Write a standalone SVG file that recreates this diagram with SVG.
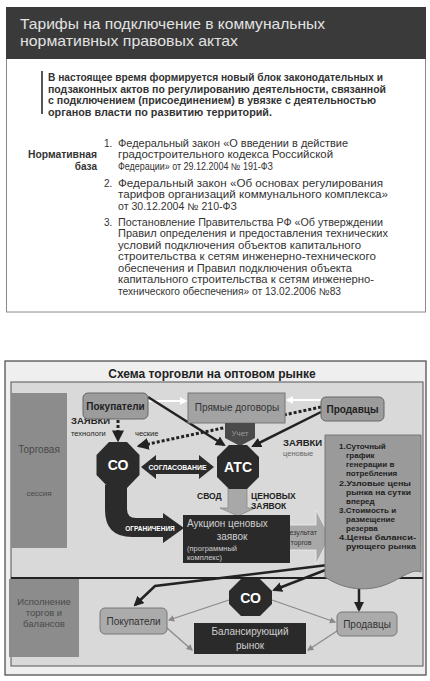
<svg xmlns="http://www.w3.org/2000/svg" width="430" height="681" viewBox="0 0 430 681">
<style>
.hd{font-family:"Liberation Sans","DejaVu Sans",sans-serif;font-size:15px;fill:#e2e2e2}
.pb{font-family:"Liberation Sans","DejaVu Sans",sans-serif;font-size:10px;font-weight:bold;fill:#333}
.li{font-family:"Liberation Sans","DejaVu Sans",sans-serif;font-size:10px;fill:#333}
.a{font-family:"Liberation Sans",Arial,sans-serif}
.b{font-weight:bold}
.wt{fill:#fff}
.lt{fill:#d0d0d0}
.thin{stroke:#8a8a8a;stroke-width:1.3;fill:none}
.thick{stroke:#222;stroke-width:2.5;fill:none}
</style>
<defs>
<marker id="ad" viewBox="0 0 10 10" refX="8" refY="5" markerWidth="4" markerHeight="4" orient="auto"><path d="M0,0L10,5L0,10z" fill="#222"/></marker>
<marker id="aw" viewBox="0 0 10 10" refX="8" refY="5" markerWidth="4" markerHeight="4" orient="auto"><path d="M0,0L10,5L0,10z" fill="#fff"/></marker>
<marker id="ag" viewBox="0 0 10 10" refX="8" refY="5" markerWidth="5" markerHeight="5" orient="auto"><path d="M0,0L10,5L0,10z" fill="#8a8a8a"/></marker>
</defs>
<rect width="430" height="681" fill="#fff"/>

<!-- top slide -->
<g id="slide1">
<rect x="6.5" y="58" width="419" height="254" fill="#fff" stroke="#8a8a8a" stroke-width="1"/>
<rect x="6" y="7" width="420" height="52" fill="#3a3a3a"/>
<text class="hd" x="20" y="29" textLength="305" lengthAdjust="spacingAndGlyphs">Тарифы на подключение в коммунальных</text>
<text class="hd" x="20" y="46" textLength="218" lengthAdjust="spacingAndGlyphs">нормативных правовых актах</text>
<rect x="41" y="71" width="2" height="43" fill="#555"/>
<text class="pb" x="48" y="81" textLength="335" lengthAdjust="spacingAndGlyphs">В настоящее время формируется новый блок законодательных и</text>
<text class="pb" x="48" y="92.5" textLength="338" lengthAdjust="spacingAndGlyphs">подзаконных актов по регулированию деятельности, связанной</text>
<text class="pb" x="48" y="104" textLength="328" lengthAdjust="spacingAndGlyphs">с подключением (присоединением) в увязке с деятельностью</text>
<text class="pb" x="48" y="115.5" textLength="224" lengthAdjust="spacingAndGlyphs">органов власти по развитию территорий.</text>
<text class="pb" x="97" y="158" text-anchor="end" textLength="69" lengthAdjust="spacingAndGlyphs">Нормативная</text>
<text class="pb" x="97" y="169.5" text-anchor="end">база</text>
<text class="li" x="104" y="146.5">1.</text>
<text class="li" x="118" y="146.5" textLength="230" lengthAdjust="spacingAndGlyphs">Федеральный закон «О введении в действие</text>
<text class="li" x="118" y="158" textLength="215" lengthAdjust="spacingAndGlyphs">градостроительного кодекса Российской</text>
<text class="li" x="118" y="169.5" textLength="155" lengthAdjust="spacingAndGlyphs">Федерации» от 29.12.2004 № 191-ФЗ</text>
<text class="li" x="104" y="186.5">2.</text>
<text class="li" x="118" y="186.5" textLength="265" lengthAdjust="spacingAndGlyphs">Федеральный закон «Об основах регулирования</text>
<text class="li" x="118" y="198" textLength="270" lengthAdjust="spacingAndGlyphs">тарифов организаций коммунального комплекса»</text>
<text class="li" x="118" y="209.5" textLength="119" lengthAdjust="spacingAndGlyphs">от 30.12.2004 № 210-ФЗ</text>
<text class="li" x="104" y="225.5">3.</text>
<text class="li" x="118" y="225.5" textLength="265" lengthAdjust="spacingAndGlyphs">Постановление Правительства РФ «Об утверждении</text>
<text class="li" x="118" y="237" textLength="270" lengthAdjust="spacingAndGlyphs">Правил определения и предоставления технических</text>
<text class="li" x="118" y="248.5" textLength="243" lengthAdjust="spacingAndGlyphs">условий подключения объектов капитального</text>
<text class="li" x="118" y="260" textLength="258" lengthAdjust="spacingAndGlyphs">строительства к сетям инженерно-технического</text>
<text class="li" x="118" y="271.5" textLength="234" lengthAdjust="spacingAndGlyphs">обеспечения и Правил подключения объекта</text>
<text class="li" x="118" y="283" textLength="256" lengthAdjust="spacingAndGlyphs">капитального строительства к сетям инженерно-</text>
<text class="li" x="118" y="294.5" textLength="223" lengthAdjust="spacingAndGlyphs">технического обеспечения» от 13.02.2006 №83</text>
</g>

<!-- bottom slide frame -->
<g id="frame">
<rect x="5" y="361" width="421" height="314" fill="#efefef" stroke="#444" stroke-width="1.2"/>
<text class="a b" x="212" y="378" font-size="12" text-anchor="middle" fill="#222">Схема торговли на оптовом рынке</text>
<rect x="11" y="382" width="412" height="284" fill="#d9d9d9" stroke="#555" stroke-width="1"/>
<line x1="11" y1="578" x2="423" y2="578" stroke="#222" stroke-width="2"/>
</g>

<g id="session">
<rect x="11" y="393" width="56" height="155" fill="#8c8c8c"/>
<text class="a" x="39" y="453" font-size="10" text-anchor="middle" fill="#4a4a4a">Торговая</text>
<text class="a" x="39" y="496" font-size="8" text-anchor="middle" fill="#4a4a4a">сессия</text>
</g>
<g id="execution">
<rect x="9" y="579" width="70" height="78" fill="#8c8c8c"/>
<text class="a" x="44" y="605" font-size="9.5" text-anchor="middle" fill="#4a4a4a">Исполнение</text>
<text class="a" x="44" y="616" font-size="9.5" text-anchor="middle" fill="#4a4a4a">торгов и</text>
<text class="a" x="44" y="627" font-size="9.5" text-anchor="middle" fill="#4a4a4a">балансов</text>
</g>

<g id="connectors">
<line x1="148" y1="401" x2="186" y2="401" stroke="#fff" stroke-width="2" marker-end="url(#aw)"/>
<line x1="321" y1="400" x2="287" y2="400" stroke="#fff" stroke-width="2" marker-end="url(#aw)"/>
<line class="thick" x1="148" y1="397" x2="224" y2="445" marker-end="url(#ad)"/>
<line class="thick" x1="321" y1="412" x2="253" y2="446" marker-end="url(#ad)"/>
<line x1="118" y1="420" x2="118" y2="440" stroke="#222" stroke-width="3" stroke-dasharray="3 2" marker-end="url(#ad)"/>
<line x1="321" y1="407" x2="139" y2="446" stroke="#222" stroke-width="3" stroke-dasharray="3 2" marker-end="url(#ad)"/>
<polyline class="thick" points="328,565 155,586 135,605" marker-end="url(#ad)"/>
<line class="thick" x1="328" y1="569" x2="274" y2="590" marker-end="url(#ad)"/>
<line class="thick" x1="359" y1="586" x2="359" y2="610" marker-end="url(#ad)"/>
<line class="thin" x1="229" y1="600" x2="169" y2="620" marker-end="url(#ag)"/>
<line class="thin" x1="272" y1="600" x2="335" y2="622" marker-end="url(#ag)"/>
<line class="thin" x1="167" y1="628" x2="192" y2="650" marker-end="url(#ag)"/>
<line class="thin" x1="337" y1="631" x2="308" y2="650" marker-end="url(#ag)"/>
<!-- ограничения -->
<path d="M105,485 L105,510 Q105,537 132,537 L163,537 L163,543 L184,528 L163,513 L163,518 L136,518 Q127,518 127,509 L127,485 Z" fill="#2b2b2b"/>
<text class="a b wt" x="150" y="530.5" font-size="6.5" text-anchor="middle">ОГРАНИЧЕНИЯ</text>
<!-- согласование -->
<path d="M141,467 L156,455 L156,460 L199,460 L199,455 L214,467 L199,479 L199,474 L156,474 L156,479 Z" fill="#2b2b2b"/>
<text class="a b wt" x="177.5" y="469.5" font-size="6.5" text-anchor="middle" textLength="58" lengthAdjust="spacingAndGlyphs">СОГЛАСОВАНИЕ</text>
<!-- свод -->
<path d="M228,488 L247,488 L247,508 L255,508 L238,516 L220,508 L228,508 Z" fill="#a8a8a8" stroke="#888" stroke-width="0.8"/>
<!-- результат -->
<path d="M286,525 L316,525 L316,510 L330,537 L316,564 L316,550 L286,550 Z" fill="#a8a8a8" stroke="#eee" stroke-width="0.8"/>
<text class="a" x="301" y="535" font-size="7" text-anchor="middle" fill="#333">Результат</text>
<text class="a" x="301" y="545" font-size="7" text-anchor="middle" fill="#333">торгов</text>
</g>

<g id="labels">
<text class="a b" x="71" y="424" font-size="9.5" fill="#222">ЗАЯВКИ</text>
<text class="a" x="71" y="436" font-size="7.5" fill="#222">технологи</text>
<text class="a" x="135" y="436" font-size="7.5" fill="#222">ческие</text>
<text class="a b" x="283" y="446" font-size="9.5" fill="#222">ЗАЯВКИ</text>
<text class="a" x="283" y="456" font-size="7.5" fill="#666">ценовые</text>
<text class="a b" x="197" y="498.5" font-size="8.5" fill="#222">СВОД</text>
<text class="a b" x="251" y="498.5" font-size="8.5" fill="#222">ЦЕНОВЫХ</text>
<text class="a b" x="251" y="508.5" font-size="8.5" fill="#222">ЗАЯВОК</text>
</g>

<g id="buyers-top">
<rect x="83" y="393" width="65" height="26" rx="5" fill="#9c9c9c" stroke="#666" stroke-width="1"/>
<text class="a b" x="115.5" y="410" font-size="10" text-anchor="middle" fill="#222">Покупатели</text>
</g>
<g id="direct">
<rect x="188" y="393" width="97" height="30" fill="#a3a3a3" stroke="#777" stroke-width="1"/>
<text class="a" x="237" y="411" font-size="10" text-anchor="middle" fill="#333">Прямые договоры</text>
</g>
<g id="uchet">
<path d="M225,423 L255,423 L255,438 L240,446 L225,438 Z" fill="#4a4a4a"/>
<text class="a" x="240" y="436" font-size="8" text-anchor="middle" fill="#9a9a9a">Учет</text>
</g>
<g id="sellers-top">
<rect x="321" y="397" width="63" height="24" rx="5" fill="#9c9c9c" stroke="#666" stroke-width="1"/>
<text class="a b" x="352.5" y="413" font-size="10" text-anchor="middle" fill="#222">Продавцы</text>
</g>
<g id="so-top">
<polygon points="109,442 127,442 139.5,455 139.5,475 127,488 109,488 96.5,475 96.5,455" fill="#2b2b2b"/>
<text class="a b wt" x="118" y="470" font-size="14" text-anchor="middle">СО</text>
</g>
<g id="ats">
<polygon points="229,445 247,445 259,457 259,477 247,489 229,489 217,477 217,457" fill="#2b2b2b"/>
<text class="a b wt" x="238" y="472" font-size="14" text-anchor="middle">АТС</text>
</g>
<g id="auction">
<rect x="183" y="515" width="107" height="48" fill="#2a2a2a"/>
<text class="a lt" x="187" y="527" font-size="10">Аукцион ценовых</text>
<text class="a lt" x="232" y="540" font-size="10" text-anchor="middle">заявок</text>
<text class="a lt" x="187" y="551" font-size="7.5">(программный</text>
<text class="a lt" x="187" y="560" font-size="7.5">комплекс)</text>
</g>
<g id="results">
<path d="M325,435 L421,435 L421,572 C406,566 392,594 352,588 C340,586 331,581 325,577 Z" fill="#9a9a9a" stroke="#777" stroke-width="1"/>
<g class="a b" font-size="8" fill="#222">
<text x="339" y="449">1.Суточный</text>
<text x="346" y="458">график</text>
<text x="346" y="467">генерации в</text>
<text x="346" y="476">потребления</text>
<text x="339" y="485.5" textLength="72" lengthAdjust="spacingAndGlyphs">2.Узловые цены</text>
<text x="346" y="494.5" textLength="65" lengthAdjust="spacingAndGlyphs">рынка на сутки</text>
<text x="346" y="503.5">вперед</text>
<text x="339" y="512.5">3.Стоимость и</text>
<text x="346" y="521.5">размещение</text>
<text x="346" y="530.5">резерва</text>
<text x="339" y="540" textLength="77" lengthAdjust="spacingAndGlyphs">4.Цены баланси-</text>
<text x="346" y="549" textLength="70" lengthAdjust="spacingAndGlyphs">рующего рынка</text>
</g>
</g>

<g id="so-bottom">
<polygon points="241,579 260,579 272,591 272,604 260,616 241,616 229,604 229,591" fill="#2b2b2b"/>
<text class="a b wt" x="250.5" y="602.5" font-size="14" text-anchor="middle">СО</text>
</g>
<g id="buyers-bottom">
<rect x="100" y="608" width="67" height="26" rx="5" fill="#ababab" stroke="#777" stroke-width="1"/>
<text class="a" x="133.5" y="625" font-size="10" text-anchor="middle" fill="#333">Покупатели</text>
</g>
<g id="sellers-bottom">
<rect x="337" y="612" width="60" height="24" rx="5" fill="#ababab" stroke="#777" stroke-width="1"/>
<text class="a" x="367" y="628" font-size="10" text-anchor="middle" fill="#333">Продавцы</text>
</g>
<g id="balancing">
<rect x="194" y="623" width="112" height="31" fill="#2a2a2a"/>
<text class="a lt" x="250" y="635" font-size="10" text-anchor="middle">Балансирующий</text>
<text class="a lt" x="250" y="649" font-size="10" text-anchor="middle">рынок</text>
</g>
</svg>
